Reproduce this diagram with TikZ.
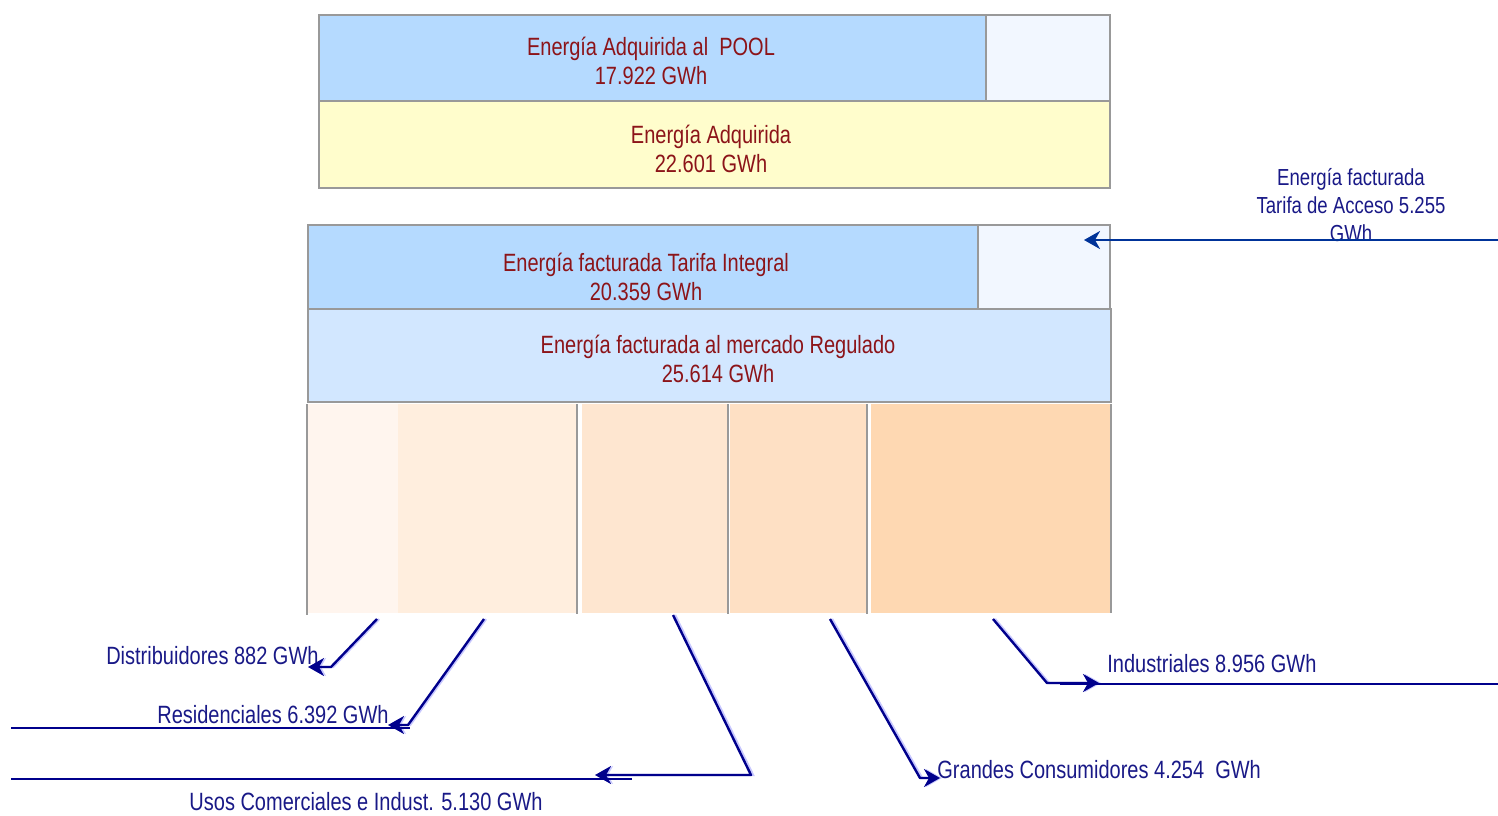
\documentclass[tikz,border=0pt]{standalone}
\usepackage{fontspec}
\setmainfont{Liberation Sans}[FakeStretch=0.8]
\usetikzlibrary{positioning,calc}
\usetikzlibrary{arrows.meta}
\definecolor{PoolBlue}{RGB}{181,218,255}
\definecolor{PaleBlue}{RGB}{242,247,255}
\definecolor{AdqYellow}{RGB}{255,253,204}
\definecolor{RegBlue}{RGB}{210,231,255}
\definecolor{SegA}{RGB}{255,245,238}
\definecolor{SegB}{RGB}{255,238,222}
\definecolor{SegC}{RGB}{254,230,208}
\definecolor{SegD}{RGB}{254,224,196}
\definecolor{SegE}{RGB}{254,216,178}
\definecolor{FrameGray}{RGB}{153,153,153}
\definecolor{TxtRed}{RGB}{140,20,25}
\definecolor{TxtBlue}{RGB}{25,25,135}
\definecolor{ArrowNavy}{RGB}{0,0,140}
\definecolor{AccBlue}{RGB}{0,51,153}
\definecolor{ShadeBlue}{RGB}{200,200,255}
\tikzset{
  panel/.style={draw=FrameGray,line width=1pt,anchor=north west,inner sep=0pt},
  paneltext/.style={inner sep=0pt,align=center,text=TxtRed,font=\fontsize{12.5}{14.5}\selectfont},
  slice/.style={anchor=north west,inner sep=0pt,minimum height=104.5pt},
  divider/.style={draw=FrameGray,line width=1.2pt},
  lbl/.style={text=TxtBlue,inner sep=0pt,align=center,font=\fontsize{12.5}{14}\selectfont},
  feed/.style={draw=ArrowNavy,line width=1.2pt,line join=round,
    preaction={draw=ShadeBlue,line width=1.2pt,transform canvas={xshift=1pt}},
    -{Stealth[length=8pt,width=9pt,inset=2.5pt]}},
  underline/.style={draw=ArrowNavy,line width=1.2pt},
}

\begin{document}
\begin{tikzpicture}[x=0.5pt,y=-0.5pt]
\useasboundingbox (0,0) rectangle (1498,815);
% energy purchased
\node[panel,fill=PoolBlue,minimum width=333.5pt,minimum height=43pt] (pool) at (318,14) {};
\node[panel,fill=PaleBlue,minimum width=62pt,minimum height=43pt] (poolrest) at (985,14) {};
\node[panel,fill=AdqYellow,minimum width=395.5pt,minimum height=43.5pt] (adq) at (318,100) {};
% energy billed
\node[panel,fill=PoolBlue,minimum width=335pt,minimum height=42pt] (integral) at (307,224) {};
\node[panel,fill=PaleBlue,minimum width=66pt,minimum height=42pt] (acceso) at (977,224) {};
\node[panel,fill=RegBlue,minimum width=401.5pt,minimum height=46.5pt] (regulado) at (307,308) {};
% panel texts
\node[paneltext] (poolT) at (651,61) {Energía Adquirida al\ \ POOL\\17.922 GWh};
\node[paneltext] (adqT) at (711,149) {Energía Adquirida\\22.601 GWh};
\node[paneltext] (integralT) at (646,277) {Energía facturada Tarifa Integral\\20.359 GWh};
\node[paneltext] (reguladoT) at (718,359) {Energía facturada al mercado Regulado\\25.614 GWh};
% slices
\node[slice,fill=SegA,minimum width=45pt] (seg1) at (308,404) {};
\node[slice,fill=SegB,minimum width=89.5pt] (seg2) at (398,404) {};
\node[slice,fill=SegC,minimum width=72.5pt] (seg3) at (582,404) {};
\node[slice,fill=SegD,minimum width=68pt] (seg4) at (730,404) {};
\node[slice,fill=SegE,minimum width=120pt] (seg5) at (871,404) {};
\draw[divider] (307,404) -- (307,615);
\draw[divider] (577,404) -- (577,614);
\draw[divider] (728,404) -- (728,614);
\draw[divider] (867,404) -- (867,614);
\draw[divider] (1111,404) -- (1111,613);
% labels
\node[lbl,anchor=east] (distL) at (319,656) {Distribuidores 882 GWh};
\node[lbl,anchor=east] (resL) at (389,715) {Residenciales 6.392 GWh};
\node[lbl] (usosL) at (366,802) {Usos Comerciales e Indust. 5.130 GWh};
\node[lbl,anchor=west] (grandL) at (937,770) {Grandes Consumidores 4.254\ \ GWh};
\node[lbl,anchor=west] (indL) at (1107,664) {Industriales 8.956 GWh};
\node[lbl,font=\fontsize{11.6}{14}\selectfont] (accL) at (1351,205)
  {Energía facturada\\Tarifa de Acceso 5.255\\GWh};
% arrow points
\coordinate (distA) at (377,619);
\coordinate (distB) at (331,667);
\coordinate (distT) at (308,667);
\coordinate (resA) at (484,619);
\coordinate (resB) at (408,725);
\coordinate (resT) at (388,725);
\coordinate (usosA) at (673,615);
\coordinate (usosB) at (751,775);
\coordinate (usosT) at (595,775);
\coordinate (grandA) at (830,619);
\coordinate (grandB) at (920,778);
\coordinate (grandT) at (940,778);
\coordinate (indA) at (993,619);
\coordinate (indB) at (1047,683);
\coordinate (indT) at (1099,683);
\coordinate (accA) at (1498,240);
\coordinate (accT) at (1084,240);
\draw[feed] (distA) -- (distB) -- (distT);
\draw[feed] (resA) -- (resB) -- (resT);
\draw[feed] (usosA) -- (usosB) -- (usosT);
\draw[feed] (grandA) -- (grandB) -- (grandT);
\draw[feed] (indA) -- (indB) -- (indT);
\draw[draw=AccBlue,line width=1.2pt,-{Stealth[length=8pt,width=9pt,inset=2.5pt]}] (accA) -- (accT);
% long underlines
\draw[underline] (11,728) -- (410,728);
\draw[underline] (11,779) -- (632,779);
\draw[underline] (1060,684) -- (1498,684);
\end{tikzpicture}
\end{document}
